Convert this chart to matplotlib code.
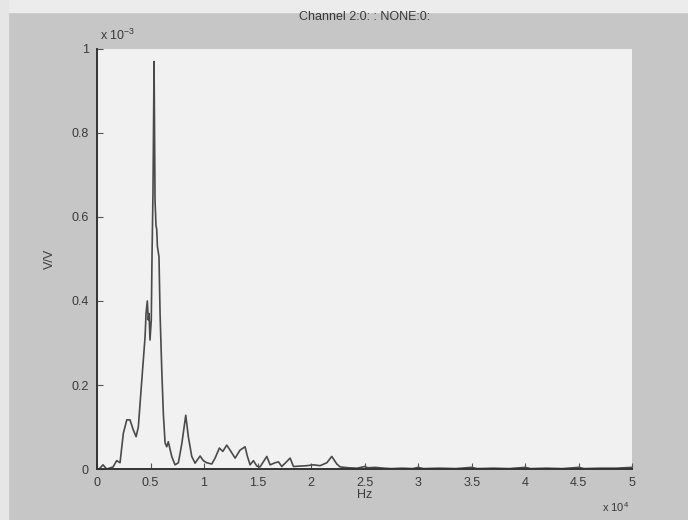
import numpy as np
import matplotlib
matplotlib.use('Agg')
import matplotlib.pyplot as plt
from matplotlib.patches import Rectangle

# Spectrum (Hz, V/V)
freq_hz = [200, 560, 906, 1500, 1840, 2150, 2460, 2780, 3080, 3390, 3650, 3860,
           4180, 4490, 4580, 4700, 4790, 4860, 4950, 5070, 5140, 5230, 5330, 5390,
           5420, 5510, 5580, 5640, 5790, 5890, 6050, 6200, 6360, 6510, 6660, 6980,
           7290, 7600, 7920, 8290, 8530, 8850, 9160, 9630, 9930, 10250, 10720, 11030,
           11430, 11750, 12120, 12430, 12900, 13360, 13830, 14050, 14300, 14610, 14930,
           15230, 15860, 16170, 16640, 16950, 17260, 18040, 18350, 18970, 19600, 20220,
           20840, 21470, 21930, 22400, 22710, 23500, 24300, 25000, 25300, 26000, 26800,
           27500, 28500, 29500, 30000, 30500, 32000, 33500, 35000, 35500, 37000, 38500,
           40000, 40500, 42000, 43500, 45000, 45500, 47000, 48500, 50000]
amplitude = [0.000, 0.010, 0.000, 0.005, 0.020, 0.015, 0.085, 0.117, 0.117, 0.093, 0.077, 0.100,
             0.210, 0.315, 0.370, 0.400, 0.355, 0.370, 0.307, 0.355, 0.510, 0.660, 0.970, 0.750,
             0.640, 0.580, 0.570, 0.530, 0.505, 0.370, 0.235, 0.130, 0.062, 0.053, 0.065, 0.030,
             0.010, 0.015, 0.060, 0.128, 0.077, 0.030, 0.014, 0.031, 0.020, 0.015, 0.012, 0.026,
             0.050, 0.042, 0.057, 0.045, 0.026, 0.045, 0.053, 0.030, 0.010, 0.020, 0.007,
             0.005, 0.030, 0.010, 0.015, 0.017, 0.006, 0.026, 0.006, 0.007, 0.008, 0.010,
             0.008, 0.015, 0.030, 0.012, 0.005, 0.003, 0.002, 0.006, 0.003, 0.004, 0.002,
             0.001, 0.002, 0.001, 0.004, 0.001, 0.002, 0.001, 0.004, 0.001, 0.002, 0.001,
             0.004, 0.001, 0.002, 0.001, 0.004, 0.001, 0.002, 0.002, 0.004]
amplitude = np.array(amplitude) * 1e-3

x_ticks = [0, 5000, 10000, 15000, 20000, 25000, 30000, 35000, 40000, 45000, 50000]
y_ticks = [0, 0.2e-3, 0.4e-3, 0.6e-3, 0.8e-3, 1e-3]

plt.rcParams['font.family'] = ['Liberation Sans', 'DejaVu Sans']
text_col = '#3a3a3a'

fig = plt.figure(figsize=(6.88, 5.2), dpi=100, facecolor='#c6c6c6')
# light scan margins at top and left
fig.add_artist(Rectangle((0, 0.977), 1, 0.023, transform=fig.transFigure, color='#ececec', zorder=0))
fig.add_artist(Rectangle((0, 0), 0.011, 1, transform=fig.transFigure, color='#e6e6e6', zorder=0))

ax = fig.add_axes([0.141, 0.098, 0.778, 0.808], facecolor='#f1f1f1')
ax.plot(freq_hz, amplitude, color='#4a4a4a', linewidth=1.2)

ax.set_xlim(0, 50000)
ax.set_ylim(0, 1e-3)
ax.set_xticks(x_ticks)
ax.set_xticklabels(['%g' % (v / 1e4) for v in x_ticks])
ax.set_yticks(y_ticks)
ax.set_yticklabels(['%g' % (v / 1e-3) for v in y_ticks])

for side in ['top', 'right']:
    ax.spines[side].set_visible(False)
for side in ['left', 'bottom']:
    ax.spines[side].set_color('#333333')
    ax.spines[side].set_linewidth(1.4)
ax.tick_params(direction='in', length=4, width=0.8, colors='#555555',
               labelcolor=text_col, labelsize=9, pad=6)

ax.set_xlabel('Hz', fontsize=9, color=text_col, labelpad=0)
ax.set_ylabel('V/V', fontsize=9, color=text_col, labelpad=11)
ax.set_title('Channel 2:0: : NONE:0:', fontsize=9, color=text_col, pad=21)

# MATLAB style exponent labels
ax.text(0.005, 1.015, r'x 10$^{\mathregular{-3}}$', transform=ax.transAxes,
        fontsize=9, color=text_col, ha='left', va='bottom')
ax.text(0.995, -0.075, r'x 10$^{\mathregular{4}}$', transform=ax.transAxes,
        fontsize=8, color=text_col, ha='right', va='top')

fig.savefig('out.png', dpi=100, facecolor=fig.get_facecolor())
